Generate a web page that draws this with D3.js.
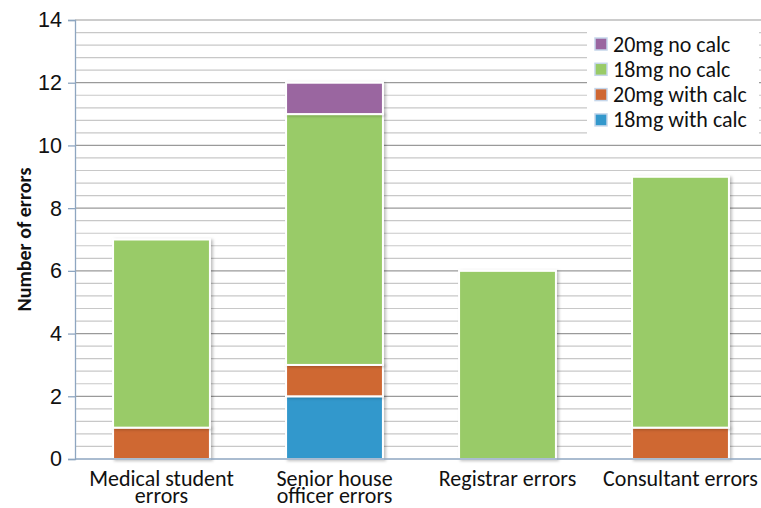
<!DOCTYPE html>
<html>
<head>
<meta charset="utf-8">
<script src="https://cdn.jsdelivr.net/npm/d3@7"></script>
<style>
  body { margin: 0; background: #fff; }
  svg { display: block; font-family: Carlito, Lato, "Open Sans", sans-serif; }
  .tick-label { font-size: 21.5px; fill: #111; }
  .cat-label { font-size: 22px; fill: #111; }
  .axis-label { font-size: 20px; font-weight: bold; fill: #111; }
  .legend-text { font-size: 22px; fill: #111; }
</style>
</head>
<body>
<div id="chart"></div>
<script>
// ── Data ─────────────────────────────────────────────
const categories = [["Medical student", "errors"], ["Senior house", "officer errors"], ["Registrar errors"], ["Consultant errors"]];
const seriesNames = ["18mg with calc", "20mg with calc", "18mg no calc", "20mg no calc"];
const with18 = [0, 2, 0, 0];
const with20 = [1, 1, 0, 1];
const no18 = [6, 8, 6, 8];
const no20 = [0, 1, 0, 0];
const yTicks = [0, 2, 4, 6, 8, 10, 12, 14];

const colors = ["#3398cc", "#cf6733", "#99cb67", "#9a66a0"];

const width = 761, height = 508;
const margin = { top: 20, right: -6, bottom: 49, left: 75 };
const innerWidth = width - margin.left - margin.right;
const innerHeight = height - margin.top - margin.bottom;

const svg = d3.select("#chart")
    .append("svg")
    .attr("width", width)
    .attr("height", height);

const defs = svg.append("defs");
const shadow = defs.append("filter").attr("id", "shadow")
    .attr("x", "-10%").attr("y", "-10%").attr("width", "130%").attr("height", "130%");
shadow.append("feDropShadow")
    .attr("dx", 2).attr("dy", 1).attr("stdDeviation", 1.5)
    .attr("flood-color", "#000").attr("flood-opacity", 0.25);

const inner = svg.append("g")
    .attr("transform", `translate(${margin.left},${margin.top})`);

// Scales
const xScale = d3.scaleBand()
    .domain(d3.range(categories.length))
    .range([0, innerWidth])
    .paddingInner(0.44)
    .paddingOuter(0.22);

const yScale = d3.scaleLinear()
    .domain([0, 14])
    .range([innerHeight, 0]);

// Gridlines: minor every 0.4, major every 2
const minor = d3.range(0, 14.01, 0.4).filter(v => Math.abs(v / 2 - Math.round(v / 2)) > 0.01);
inner.selectAll(".minor")
    .data(minor)
    .join("line")
    .attr("x1", 0).attr("x2", innerWidth)
    .attr("y1", d => yScale(d)).attr("y2", d => yScale(d))
    .attr("stroke", "#c8c8c8").attr("stroke-width", 1.2);

inner.selectAll(".major")
    .data(yTicks.slice(1))
    .join("line")
    .attr("x1", 0).attr("x2", innerWidth)
    .attr("y1", d => yScale(d)).attr("y2", d => yScale(d))
    .attr("stroke", "#9a9a9a").attr("stroke-width", 1.2);

// Stacked bars
const table = categories.map((c, i) => ({
    i, s0: with18[i], s1: with20[i], s2: no18[i], s3: no20[i]
}));
const stack = d3.stack().keys(["s0", "s1", "s2", "s3"]);
const layers = stack(table);

inner.selectAll(".layer")
    .data(layers)
    .join("g")
    .attr("fill", (d, i) => colors[i])
    .selectAll("rect")
    .data(d => d.filter(p => p[1] - p[0] > 0))
    .join("rect")
    .attr("x", d => xScale(d.data.i))
    .attr("y", d => yScale(d[1]))
    .attr("width", xScale.bandwidth())
    .attr("height", d => yScale(d[0]) - yScale(d[1]))
    .attr("stroke", "#fff")
    .attr("stroke-width", 2)
    .attr("filter", "url(#shadow)");

// Left axis
const leftAxis = d3.axisLeft(yScale).tickValues(yTicks).tickSize(7).tickPadding(6);
const yAxis = inner.append("g").call(leftAxis);
yAxis.select(".domain").attr("stroke", "#8ea6c0").attr("stroke-width", 1.3);
yAxis.selectAll(".tick line").attr("stroke", "#8ea6c0").attr("stroke-width", 1.3);
yAxis.selectAll(".tick text").attr("class", "tick-label").attr("font-family", null).attr("font-size", null);

// Bottom axis line
inner.append("line")
    .attr("x1", 0).attr("x2", innerWidth)
    .attr("y1", innerHeight).attr("y2", innerHeight)
    .attr("stroke", "#8ea6c0").attr("stroke-width", 1.3);

// Category labels
const catLabels = inner.selectAll(".cat")
    .data(categories)
    .join("text")
    .attr("class", "cat-label")
    .attr("text-anchor", "middle")
    .attr("x", (d, i) => xScale(i) + xScale.bandwidth() / 2)
    .attr("y", innerHeight + 27);
catLabels.selectAll("tspan")
    .data(d => d)
    .join("tspan")
    .attr("x", function () { return this.parentNode.getAttribute("x"); })
    .attr("dy", (d, i) => i === 0 ? 0 : 16.5)
    .text(d => d);

// Y axis title
svg.append("text")
    .attr("class", "axis-label")
    .attr("text-anchor", "middle")
    .attr("transform", `translate(31,${margin.top + innerHeight / 2}) rotate(-90)`)
    .text("Number of errors");

// Legend
const legend = svg.append("g").attr("transform", "translate(587,22)");
legend.append("rect")
    .attr("width", 172).attr("height", 120)
    .attr("fill", "#fff");
const legendOrder = [3, 2, 1, 0];
const items = legend.selectAll(".item")
    .data(legendOrder)
    .join("g")
    .attr("transform", (d, i) => `translate(8,${22 + i * 25.3})`);
items.append("rect")
    .attr("x", 0).attr("y", -6)
    .attr("width", 12).attr("height", 12)
    .attr("fill", d => colors[d])
    .attr("stroke", "#c5d6ea").attr("stroke-width", 1.5);
items.append("text")
    .attr("class", "legend-text")
    .attr("x", 18).attr("y", 7.5)
    .text(d => seriesNames[d]);
</script>
</body>
</html>
